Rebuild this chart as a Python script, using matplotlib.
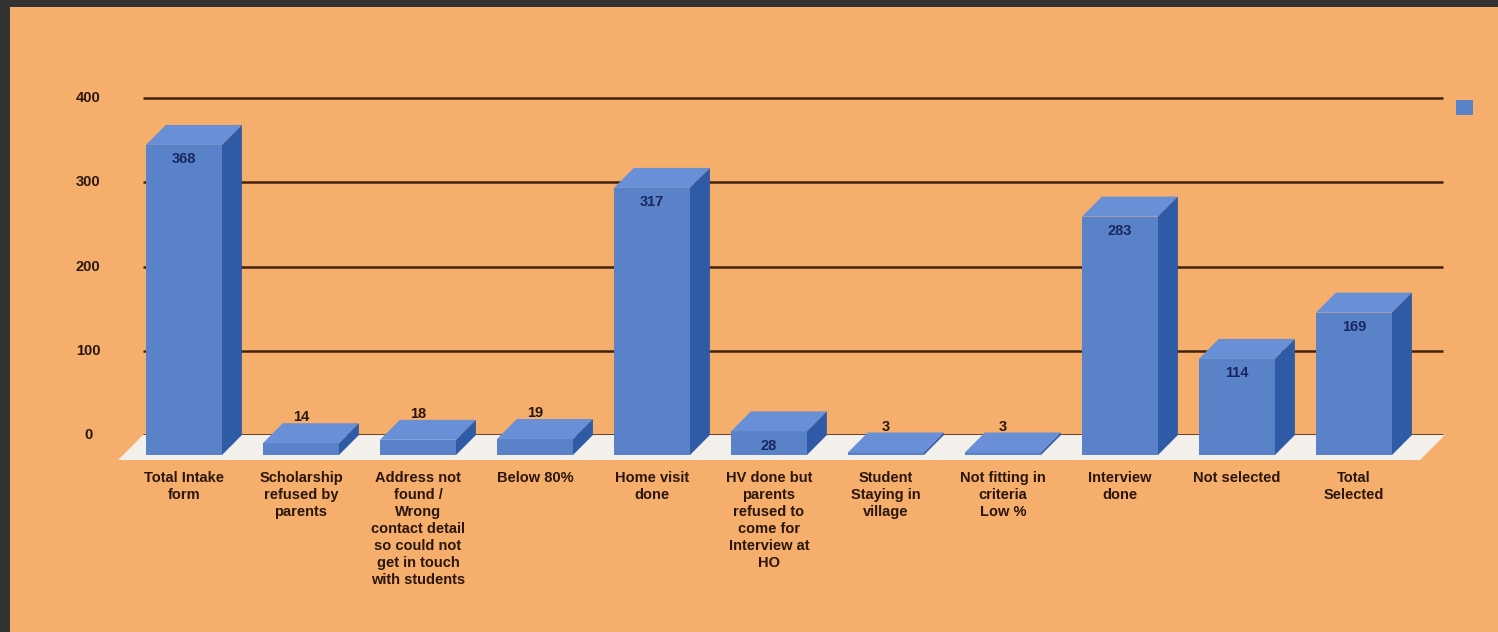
import matplotlib.pyplot as plt
from matplotlib.patches import Polygon, Patch

# data
categories = ["Total Intake\nform", "Scholarship\nrefused by\nparents",
              "Address not\nfound /\nWrong\ncontact detail\nso could not\nget in touch\nwith students",
              "Below 80%", "Home visit\ndone",
              "HV done but\nparents\nrefused to\ncome for\nInterview at\nHO",
              "Student\nStaying in\nvillage", "Not fitting in\ncriteria\nLow %",
              "Interview\ndone", "Not selected", "Total\nSelected"]
values = [368, 14, 18, 19, 317, 28, 3, 3, 283, 114, 169]
yticks = [0, 100, 200, 300, 400]

bg = '#f5ae6b'
front = '#5a82c8'
top_c = '#6990d6'
side_c = '#2f5aa5'
grid_c = '#43230f'
txt_c = '#2a160a'
val_c = '#1a2660'

plt.rcParams['font.family'] = ['Liberation Sans', 'DejaVu Sans']

fig = plt.figure(figsize=(14.98, 6.32), dpi=100)
fig.patch.set_facecolor('#333333')
ax = fig.add_axes([10 / 1498, 0, 1488 / 1498, 625 / 632])
ax.set_facecolor(bg)
ax.set_xlim(-1.487, 11.231)
ax.set_ylim(-233.8, 508.0)
ax.set_xticks([])
ax.set_yticks([])
for s in ax.spines.values():
    s.set_visible(False)

n = len(values)
w = 0.65          # bar width
dx = 0.17         # depth offset (x)
dy = 23.7         # depth offset (value units)

# back wall grid lines
ax.hlines(yticks, -0.35, n - 1 + 0.76, color=grid_c, lw=1.8, zorder=1)
for t in yticks:
    ax.text(-0.82, t, str(t), ha='center', va='center', fontsize=10.5,
            fontweight='bold', color=txt_c)

# floor
fdx, fdy = 0.214, 29.7
floor = Polygon([(-0.564, -fdy), (n - 1 + 0.564, -fdy), (n - 1 + 0.564 + fdx, 0),
                 (-0.564 + fdx, 0)], closed=True, facecolor='#f3f0ec',
                edgecolor='none', zorder=2)
ax.add_patch(floor)

# bars: front face + top + side
x = list(range(n))
ax.bar(x, values, width=w, bottom=-dy, color=front, zorder=3)
for i, v in enumerate(values):
    l, r = i - w / 2, i + w / 2
    ax.add_patch(Polygon([(l, v - dy), (r, v - dy), (r + dx, v), (l + dx, v)],
                         closed=True, facecolor=top_c, edgecolor='none', zorder=3))
    ax.add_patch(Polygon([(r, -dy), (r + dx, 0), (r + dx, v), (r, v - dy)],
                         closed=True, facecolor=side_c, edgecolor='none', zorder=3))
    if v >= 25:
        ax.text(i, v - dy - 17, str(v), ha='center', va='center', fontsize=10.5,
                fontweight='bold', color=val_c, zorder=4)
    else:
        ax.text(i, v + 7, str(v), ha='center', va='center', fontsize=10.5,
                fontweight='bold', color=txt_c, zorder=4)

# category labels
for i, c in enumerate(categories):
    ax.text(i, -42.5, c, ha='center', va='top', fontsize=10.5, fontweight='bold',
            color=txt_c, linespacing=1.27)

fig.legend(handles=[Patch(facecolor=front)], labels=[''], loc='upper left',
           bbox_to_anchor=(1441 / 1498, 1 - 85 / 632), frameon=False,
           handlelength=1.0, handleheight=1.0, fontsize=12)

fig.savefig('out.png', dpi=100, facecolor=fig.get_facecolor())
